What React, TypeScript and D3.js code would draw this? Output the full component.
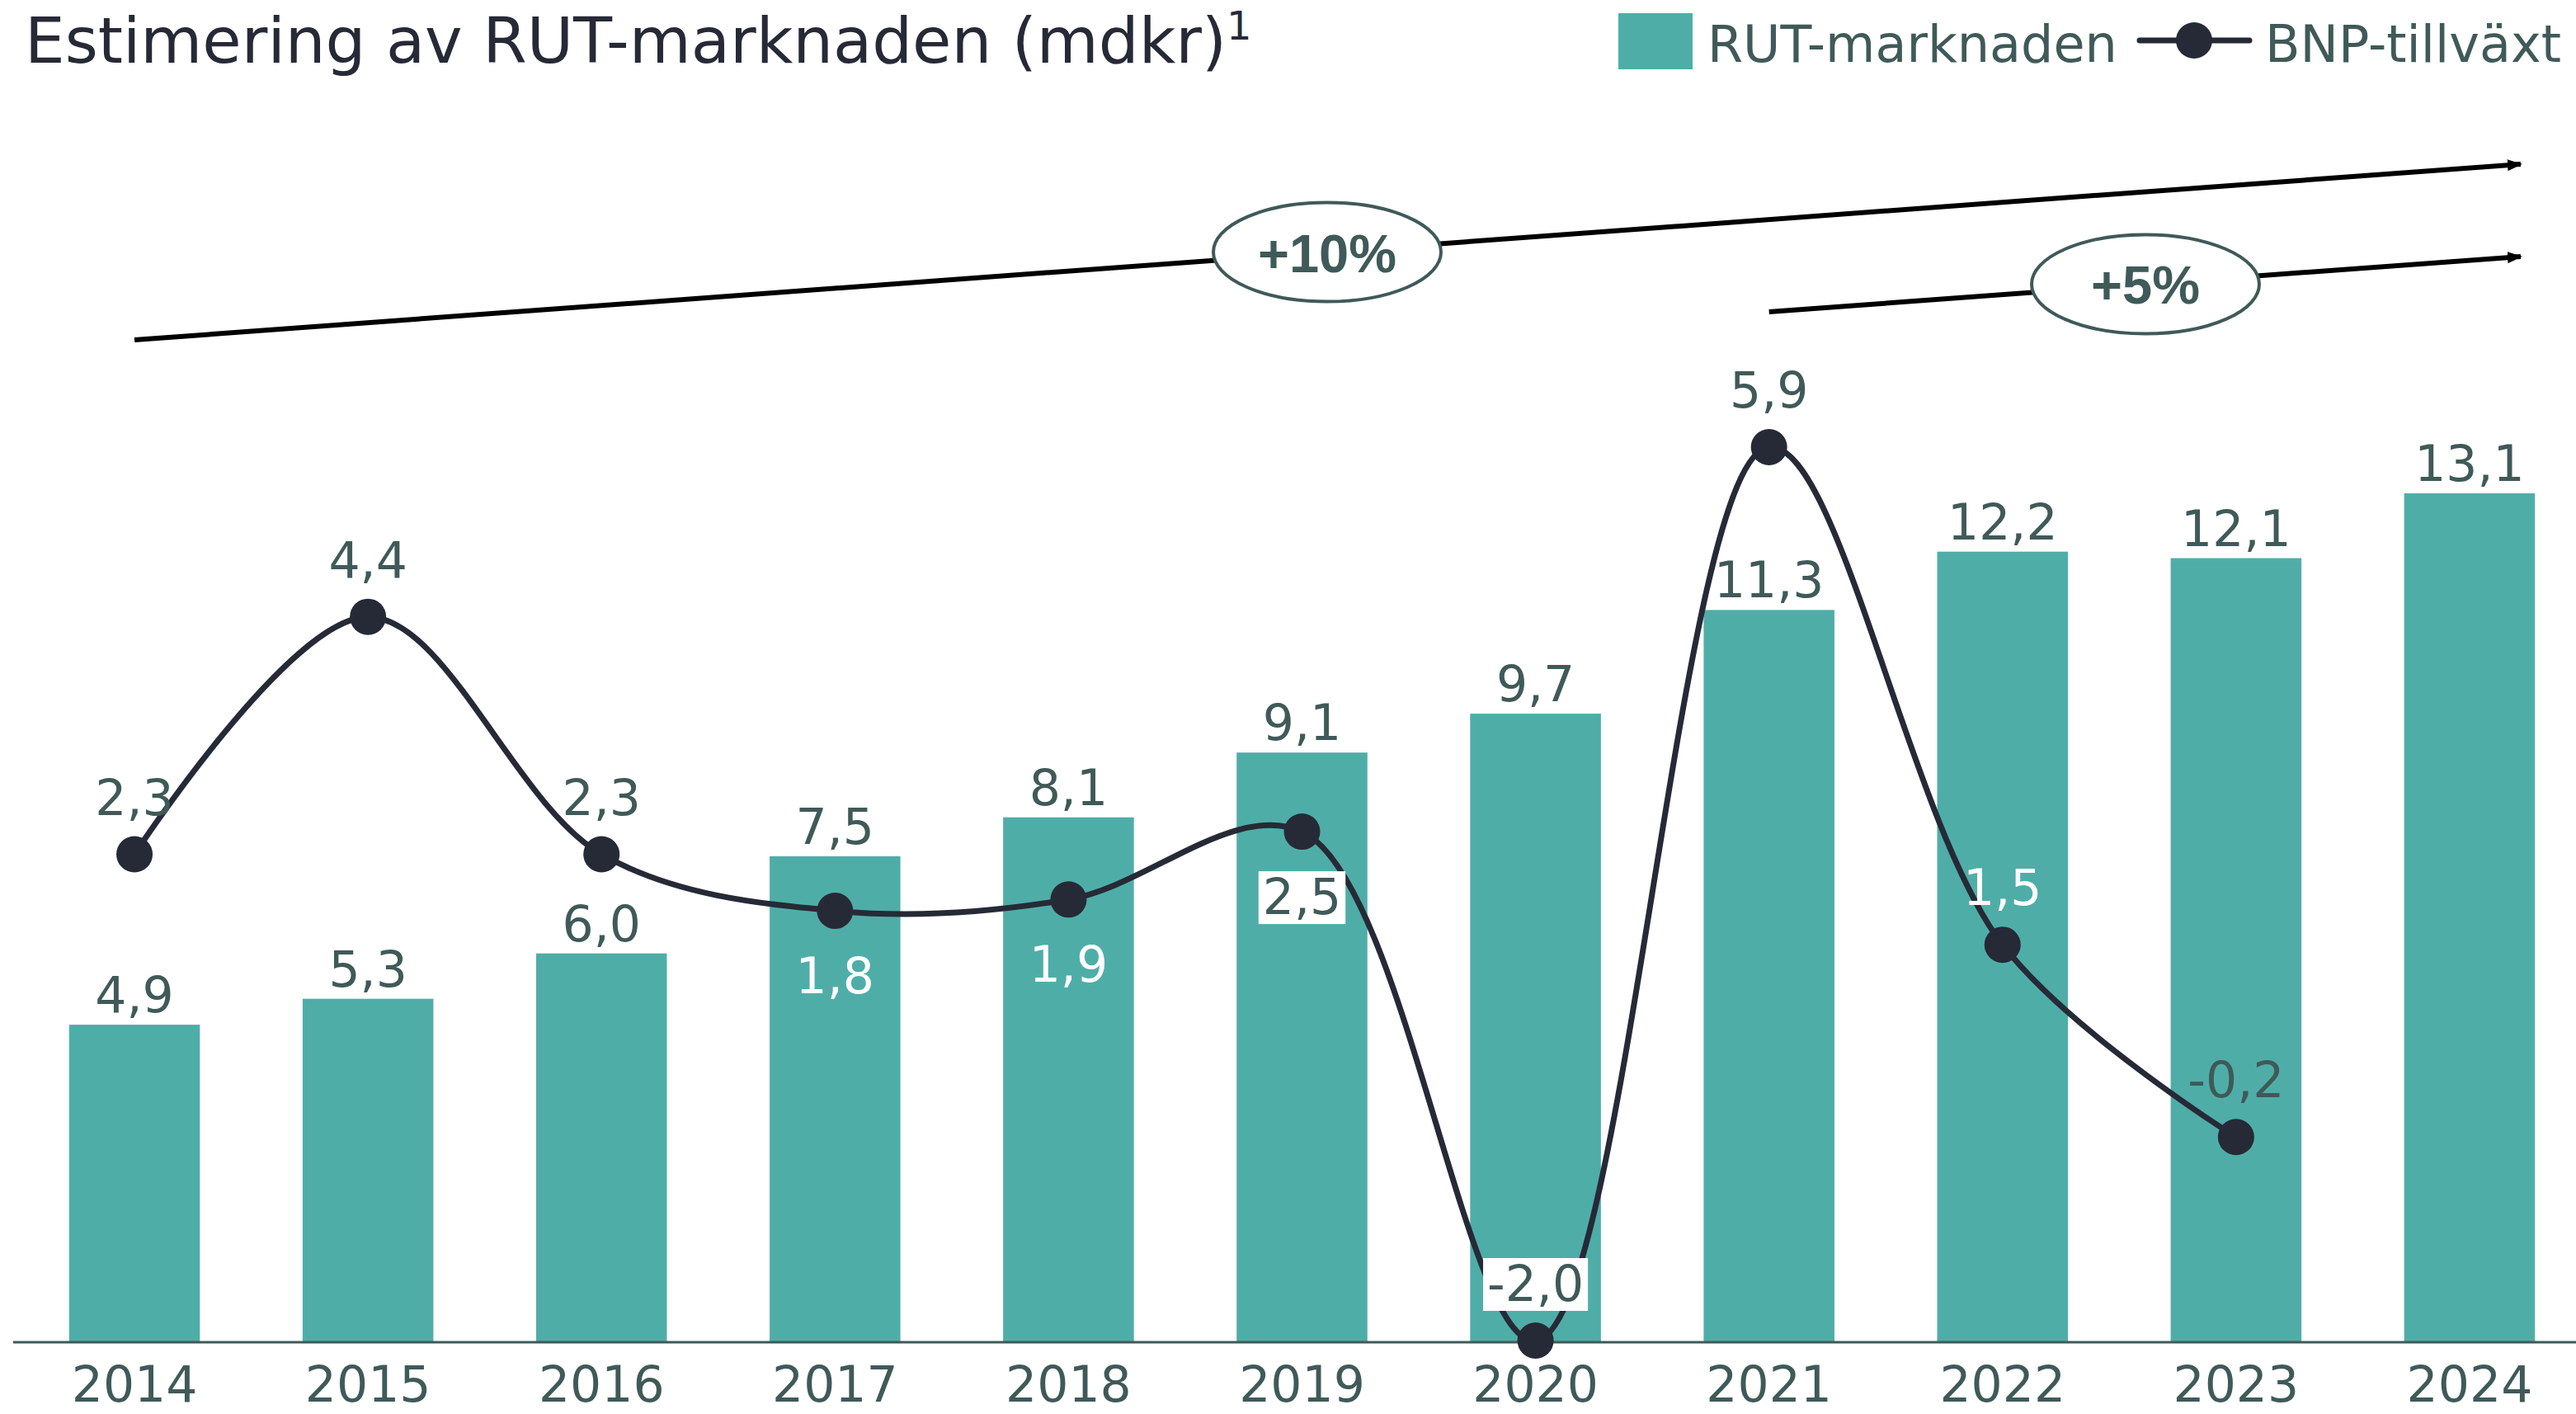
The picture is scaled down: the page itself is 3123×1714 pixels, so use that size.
import React, { useEffect, useRef } from 'react';
import * as d3 from 'd3';

// chart data
const years = ['2014', '2015', '2016', '2017', '2018', '2019', '2020', '2021', '2022', '2023', '2024'];
const rutValues = [4.9, 5.3, 6.0, 7.5, 8.1, 9.1, 9.7, 11.3, 12.2, 12.1, 13.1];
const bnpYears = ['2014', '2015', '2016', '2017', '2018', '2019', '2020', '2021', '2022', '2023'];
const bnpValues = [2.3, 4.4, 2.3, 1.8, 1.9, 2.5, -2.0, 5.9, 1.5, -0.2];
const trendStarts = ['2014', '2021'];
const trendLabels = ['+10%', '+5%'];

const TEAL = '#4fada8';
const DARK = '#262a36';
const LABEL = '#3f5a58';
const FONT = '"DejaVu Sans", sans-serif';

const App = () => {
  const svgRef = useRef<SVGSVGElement>(null);

  useEffect(() => {
    const W = 3123;
    const H = 1714;
    const baseY = 1627;

    const svg = d3.select(svgRef.current)
      .attr('width', W)
      .attr('height', H)
      .style('background', '#fff');

    svg.selectAll('*').remove();

    const fmt = d3.formatLocale({
      decimal: ',', thousands: ' ', grouping: [3], currency: ['', ''], minus: '-'
    }).format('.1f');

    // Scales
    const x = d3.scaleBand<string>()
      .domain(years)
      .range([21.5, 3135.5])
      .paddingInner(0.44)
      .paddingOuter(0.22);
    const cx = (d: string) => (x(d) as number) + x.bandwidth() / 2;

    const yBar = d3.scaleLinear().domain([0, 13.1]).range([baseY, 598]);
    const yLine = d3.scaleLinear().domain([-2, 5.9]).range([1625, 542]);

    // Title
    const title = svg.append('text')
      .attr('x', 30)
      .attr('y', 76)
      .attr('font-family', FONT)
      .attr('font-size', 77)
      .attr('fill', DARK)
      .text('Estimering av RUT-marknaden (mdkr)');
    title.append('tspan')
      .attr('font-size', 48)
      .attr('dy', -28)
      .text('1');

    // Legend
    svg.append('rect')
      .attr('x', 1962).attr('y', 16)
      .attr('width', 90).attr('height', 68)
      .attr('fill', TEAL);
    svg.append('text')
      .attr('x', 2070).attr('y', 75)
      .attr('font-family', FONT).attr('font-size', 62)
      .attr('fill', LABEL)
      .text('RUT-marknaden');
    svg.append('line')
      .attr('x1', 2594).attr('x2', 2727)
      .attr('y1', 49).attr('y2', 49)
      .attr('stroke', DARK).attr('stroke-width', 7)
      .attr('stroke-linecap', 'round');
    svg.append('circle')
      .attr('cx', 2660).attr('cy', 49).attr('r', 22)
      .attr('fill', DARK);
    svg.append('text')
      .attr('x', 2746).attr('y', 75)
      .attr('font-family', FONT).attr('font-size', 62)
      .attr('fill', LABEL)
      .text('BNP-tillväxt');

    // Bars
    svg.append('g')
      .selectAll('rect')
      .data(years)
      .join('rect')
      .attr('x', d => x(d) as number)
      .attr('width', x.bandwidth())
      .attr('y', (d, i) => yBar(rutValues[i]))
      .attr('height', (d, i) => baseY - yBar(rutValues[i]))
      .attr('fill', TEAL);

    // Bar labels
    svg.append('g')
      .selectAll('text')
      .data(years)
      .join('text')
      .attr('x', d => cx(d))
      .attr('y', (d, i) => yBar(rutValues[i]) - 15)
      .attr('text-anchor', 'middle')
      .attr('font-family', FONT).attr('font-size', 60)
      .attr('fill', LABEL)
      .text((d, i) => fmt(rutValues[i]));

    // Axis
    const axis = svg.append('g')
      .attr('transform', `translate(0,${baseY})`)
      .call(d3.axisBottom(x).tickSize(0).tickSizeOuter(0));
    axis.select('.domain').remove();
    axis.selectAll('text')
      .attr('y', 72)
      .attr('dy', 0)
      .attr('font-family', FONT)
      .attr('font-size', 60)
      .attr('fill', LABEL);
    svg.append('line')
      .attr('x1', 16).attr('x2', W)
      .attr('y1', baseY).attr('y2', baseY)
      .attr('stroke', LABEL).attr('stroke-width', 3);

    // Trend arrows with growth ellipses
    svg.append('defs').append('marker')
      .attr('id', 'arrow')
      .attr('markerUnits', 'userSpaceOnUse')
      .attr('viewBox', '0 0 18 14')
      .attr('refX', 16).attr('refY', 7)
      .attr('markerWidth', 18).attr('markerHeight', 14)
      .attr('orient', 'auto')
      .append('path')
      .attr('d', 'M0,0 L18,7 L0,14 Z')
      .attr('fill', '#000');

    const trendEndX = cx('2024') + 62;
    const trendY = [[412, 199], [378, 311]];
    const ellipseCx = [1609, 2601];

    trendStarts.forEach((start, i) => {
      const x1 = cx(start);
      const [y1, y2] = trendY[i];
      svg.append('line')
        .attr('x1', x1).attr('y1', y1)
        .attr('x2', trendEndX).attr('y2', y2)
        .attr('stroke', '#000').attr('stroke-width', 6)
        .attr('marker-end', 'url(#arrow)');
      const ex = ellipseCx[i];
      const ey = y1 + (y2 - y1) * (ex - x1) / (trendEndX - x1);
      svg.append('ellipse')
        .attr('cx', ex).attr('cy', ey)
        .attr('rx', 138).attr('ry', 60)
        .attr('fill', '#fff')
        .attr('stroke', LABEL).attr('stroke-width', 4);
      svg.append('text')
        .attr('x', ex).attr('y', ey + 24)
        .attr('text-anchor', 'middle')
        .attr('font-family', '"Liberation Sans", Arial, sans-serif')
        .attr('font-weight', 'bold')
        .attr('font-size', 65)
        .attr('fill', LABEL)
        .text(trendLabels[i]);
    });

    // BNP line
    const line = d3.line<string>()
      .x(d => cx(d))
      .y((d, i) => yLine(bnpValues[i]))
      .curve(d3.curveCatmullRom.alpha(0.5));

    svg.append('path')
      .datum(bnpYears)
      .attr('fill', 'none')
      .attr('stroke', DARK)
      .attr('stroke-width', 7)
      .attr('d', line);

    svg.append('g')
      .selectAll('circle')
      .data(bnpYears)
      .join('circle')
      .attr('cx', d => cx(d))
      .attr('cy', (d, i) => yLine(bnpValues[i]))
      .attr('r', 22)
      .attr('fill', DARK);

    // BNP labels
    const below = new Set(['2017', '2018', '2019']);
    const white = new Set(['2017', '2018', '2022']);
    const boxed = new Set(['2019', '2020']);

    const lblG = svg.append('g');
    bnpYears.forEach((d, i) => {
      const py = yLine(bnpValues[i]);
      const ty = below.has(d) ? py + 100 : py - 48;
      const g = lblG.append('g');
      const t = g.append('text')
        .attr('x', cx(d))
        .attr('y', ty)
        .attr('text-anchor', 'middle')
        .attr('font-family', FONT).attr('font-size', 60)
        .attr('fill', white.has(d) ? '#fff' : LABEL)
        .text(fmt(bnpValues[i]));
      if (boxed.has(d)) {
        const bb = (t.node() as SVGTextElement).getBBox();
        g.insert('rect', 'text')
          .attr('x', bb.x - 5).attr('y', bb.y + 4)
          .attr('width', bb.width + 10).attr('height', bb.height - 6)
          .attr('fill', '#fff');
      }
    });
  }, []);

  return <svg ref={svgRef} style={{ position: 'absolute', left: 0, top: 0 }}></svg>;
};

export default App;
